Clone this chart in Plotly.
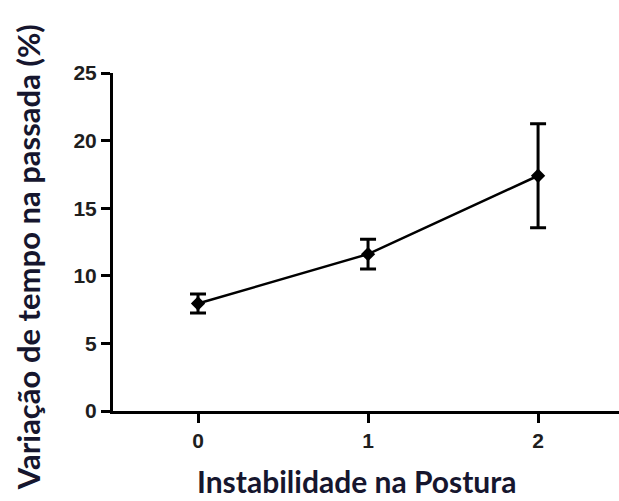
import plotly.graph_objects as go

x_vals = [0, 1, 2]
y_means = [7.95, 11.6, 17.4]
y_err = [0.7, 1.1, 3.85]
x_ticks = [0, 1, 2]
y_ticks = [0, 5, 10, 15, 20, 25]
x_title = "Instabilidade na Postura"
y_title = "Variação de tempo na passada (%)"

fig = go.Figure()
fig.add_trace(go.Scatter(
    x=x_vals, y=y_means, mode="lines+markers",
    line=dict(color="black", width=2.5),
    marker=dict(symbol="diamond", size=11, color="black"),
    error_y=dict(type="data", array=y_err, visible=True, color="black", thickness=3, width=8),
    showlegend=False,
))

title_font = dict(family="Lato", size=31, color="#16162e")
xtitle_font = dict(family="Lato", size=30, color="#16162e")
tick_font = dict(family="Liberation Sans", size=21, color="#1e1e1e")

fig.update_layout(
    width=619, height=501,
    margin=dict(l=113, r=0, t=73, b=90),
    paper_bgcolor="white", plot_bgcolor="white",
    xaxis=dict(
        range=[-0.5, 2.476], tickvals=x_ticks,
        ticktext=["<b>%d</b>" % v for v in x_ticks],
        showline=True, linecolor="black", linewidth=3, ticks="outside", ticklen=9,
        tickwidth=3, tickcolor="black", showgrid=False, zeroline=False,
        tickfont=tick_font,
    ),
    yaxis=dict(
        range=[0, 25], tickvals=y_ticks,
        ticktext=["<b>%d</b>" % v for v in y_ticks],
        showline=True, linecolor="black", linewidth=3, ticks="outside", ticklen=9,
        tickwidth=3, tickcolor="black", showgrid=False, zeroline=False,
        tickfont=tick_font,
    ),
    annotations=[
        dict(text="<b>" + x_title + "</b>", xref="paper", yref="paper",
             x=0.482, y=-0.005, yshift=0, xanchor="center", yanchor="bottom",
             showarrow=False, font=xtitle_font) | dict(y=-0.266),
        dict(text="<b>" + y_title + "</b>", xref="paper", yref="paper",
             x=-0.168, y=0.455, xanchor="center", yanchor="middle",
             textangle=-90, showarrow=False, font=title_font),
    ],
)

fig.write_html("out.html")
